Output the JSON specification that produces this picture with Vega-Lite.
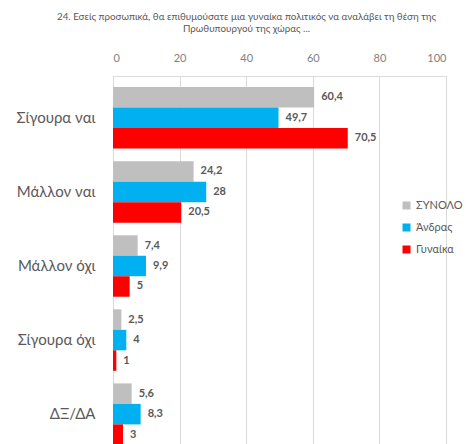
{
  "$schema": "https://vega.github.io/schema/vega-lite/v6.json",
  "autosize": "none",
  "padding": {"left": 113, "top": 76, "right": 20, "bottom": 0},
  "width": 333,
  "height": 380,
  "background": "white",
  "title": {
    "text": ["24. Εσείς προσωπικά, θα επιθυμούσατε  μια γυναίκα πολιτικός να αναλάβει τη θέση της", "Πρωθυπουργού της χώρας ..."],
    "font": "Lato",
    "fontSize": 9.8,
    "fontWeight": "normal",
    "color": "#595959",
    "anchor": "middle",
    "frame": "group",
    "dx": -33,
    "offset": 18,
    "lineHeight": 12
  },
  "data": {
    "values": [
      {"cat": "Σίγουρα ναι", "series": "ΣΥΝΟΛΟ", "value": 60.4, "label": "60,4"},
      {"cat": "Σίγουρα ναι", "series": "Άνδρας", "value": 49.7, "label": "49,7"},
      {"cat": "Σίγουρα ναι", "series": "Γυναίκα", "value": 70.5, "label": "70,5"},
      {"cat": "Μάλλον ναι", "series": "ΣΥΝΟΛΟ", "value": 24.2, "label": "24,2"},
      {"cat": "Μάλλον ναι", "series": "Άνδρας", "value": 28, "label": "28"},
      {"cat": "Μάλλον ναι", "series": "Γυναίκα", "value": 20.5, "label": "20,5"},
      {"cat": "Μάλλον όχι", "series": "ΣΥΝΟΛΟ", "value": 7.4, "label": "7,4"},
      {"cat": "Μάλλον όχι", "series": "Άνδρας", "value": 9.9, "label": "9,9"},
      {"cat": "Μάλλον όχι", "series": "Γυναίκα", "value": 5, "label": "5"},
      {"cat": "Σίγουρα όχι", "series": "ΣΥΝΟΛΟ", "value": 2.5, "label": "2,5"},
      {"cat": "Σίγουρα όχι", "series": "Άνδρας", "value": 4, "label": "4"},
      {"cat": "Σίγουρα όχι", "series": "Γυναίκα", "value": 1, "label": "1"},
      {"cat": "ΔΞ/ΔΑ", "series": "ΣΥΝΟΛΟ", "value": 5.6, "label": "5,6"},
      {"cat": "ΔΞ/ΔΑ", "series": "Άνδρας", "value": 8.3, "label": "8,3"},
      {"cat": "ΔΞ/ΔΑ", "series": "Γυναίκα", "value": 3, "label": "3"}
    ]
  },
  "encoding": {
    "y": {
      "field": "cat", "type": "nominal", "sort": null,
      "scale": {"paddingInner": 0.17, "paddingOuter": 0.15},
      "axis": {"title": null, "domain": false, "ticks": false, "labelPadding": 18, "labelFont": "Lato", "labelFontSize": 15, "labelColor": "#595959"}
    },
    "yOffset": {
      "field": "series", "type": "nominal",
      "sort": ["ΣΥΝΟΛΟ", "Άνδρας", "Γυναίκα"]
    },
    "x": {
      "field": "value", "type": "quantitative",
      "scale": {"domain": [0, 100]},
      "axis": {"orient": "top", "title": null, "values": [0, 20, 40, 60, 80, 100], "domain": false, "ticks": false, "labelPadding": 13, "labelFont": "Lato", "labelFontSize": 11, "labelColor": "#808080", "grid": true, "gridColor": "#d9d9d9"}
    }
  },
  "layer": [
    {
      "mark": {"type": "bar"},
      "encoding": {
        "color": {
          "field": "series", "type": "nominal",
          "sort": ["ΣΥΝΟΛΟ", "Άνδρας", "Γυναίκα"],
          "scale": {"domain": ["ΣΥΝΟΛΟ", "Άνδρας", "Γυναίκα"], "range": ["#BFBFBF", "#00B0F0", "#FF0000"]},
          "legend": {"title": null, "orient": "none", "legendX": 288, "legendY": 124, "symbolType": "square", "symbolSize": 64, "symbolStrokeWidth": 0, "labelFont": "Lato", "labelFontSize": 11, "labelColor": "#595959", "rowPadding": 10, "labelOffset": 4}
        }
      }
    },
    {
      "mark": {"type": "text", "align": "left", "dx": 7, "font": "Lato", "fontSize": 11, "fontWeight": "bold", "color": "#595959"},
      "encoding": {"text": {"field": "label"}}
    }
  ]
}
